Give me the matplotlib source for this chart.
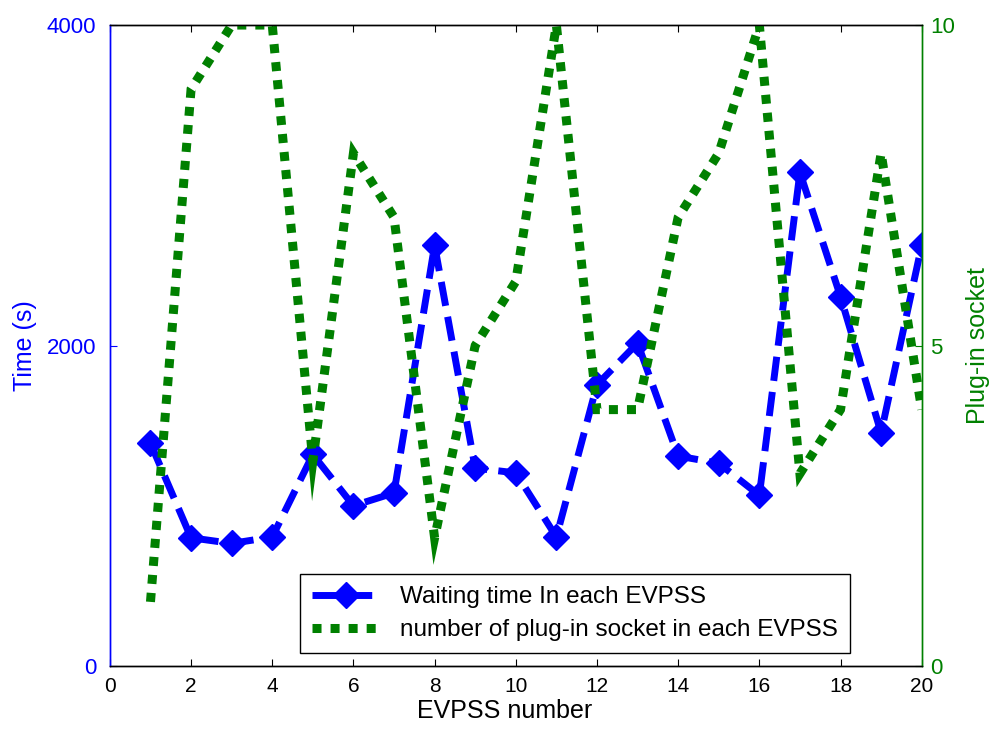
import matplotlib
matplotlib.use("Agg")
import matplotlib.pyplot as plt

plt.rcParams['font.family'] = ['Liberation Sans', 'DejaVu Sans']

# EVPSS index
evpss = [1, 2, 3, 4, 5, 6, 7, 8, 9, 10, 11, 12, 13, 14, 15, 16, 17, 18, 19, 20]
# waiting time (s)
waitTime = [1390, 800, 765, 805, 1320, 1000, 1080, 2625, 1235, 1205,
            805, 1755, 2015, 1310, 1265, 1065, 3080, 2305, 1455, 2625]
# plug-in sockets
sockets = [1, 9, 10, 10, 3.2, 8, 7, 2, 5, 6, 10, 4, 4, 7, 8, 10, 3, 4, 8, 4]

blue = (0, 0, 1)
green = (0, 0.5, 0)

fig = plt.figure(figsize=(9.9, 7.3), dpi=100)
ax1 = fig.add_axes([0.111, 0.0877, 0.820, 0.878])
ax2 = ax1.twinx()

l1, = ax1.plot(evpss, waitTime, color=blue, linewidth=5, linestyle=(0, (3.5, 1.6)),
               marker='D', markersize=13, markerfacecolor=blue, markeredgecolor=blue,
               dash_joinstyle='miter', dash_capstyle='butt',
               label='Waiting time In each EVPSS')
l2, = ax2.plot(evpss, sockets, color=green, linewidth=6.5, linestyle=(0, (1, 1)),
               dash_joinstyle='miter', dash_capstyle='butt',
               label='number of plug-in socket in each EVPSS')

ax1.set_xlim(0, 20)
ax1.set_ylim(0, 4000)
ax2.set_ylim(0, 10)
ax1.set_xticks(range(0, 21, 2))
ax1.set_yticks([0, 2000, 4000])
ax2.set_yticks([0, 5, 10])

ax1.tick_params(axis='x', direction='in', top=True, labelsize=15, length=5, pad=8)
ax1.tick_params(axis='y', direction='in', colors=blue, labelsize=16, length=5, pad=10)
ax2.tick_params(axis='y', direction='in', colors=green, labelsize=16, length=5, pad=6)

ax1.set_xlabel('EVPSS number', fontsize=18)
ax1.xaxis.set_label_coords(0.486, -0.052)
ax1.set_ylabel('Time (s)', fontsize=18, color=blue, labelpad=7)
ax2.set_ylabel('Plug-in socket', fontsize=18, color=green, labelpad=8)

for ax in (ax1, ax2):
    ax.spines['left'].set_color(blue)
    ax.spines['right'].set_color(green)
    ax.spines['top'].set_color('black')
    ax.spines['bottom'].set_color('black')
    for s in ax.spines.values():
        s.set_linewidth(1)

leg = ax2.legend(handles=[l1, l2], loc='lower left', bbox_to_anchor=(0.234, 0.02),
                 borderaxespad=0, fancybox=False, edgecolor='black', framealpha=1,
                 fontsize=17.5, handlelength=2.8, handletextpad=0.8, labelspacing=0.45,
                 borderpad=0.5)
leg.get_frame().set_linewidth(1)

fig.savefig('out.png', dpi=100)
